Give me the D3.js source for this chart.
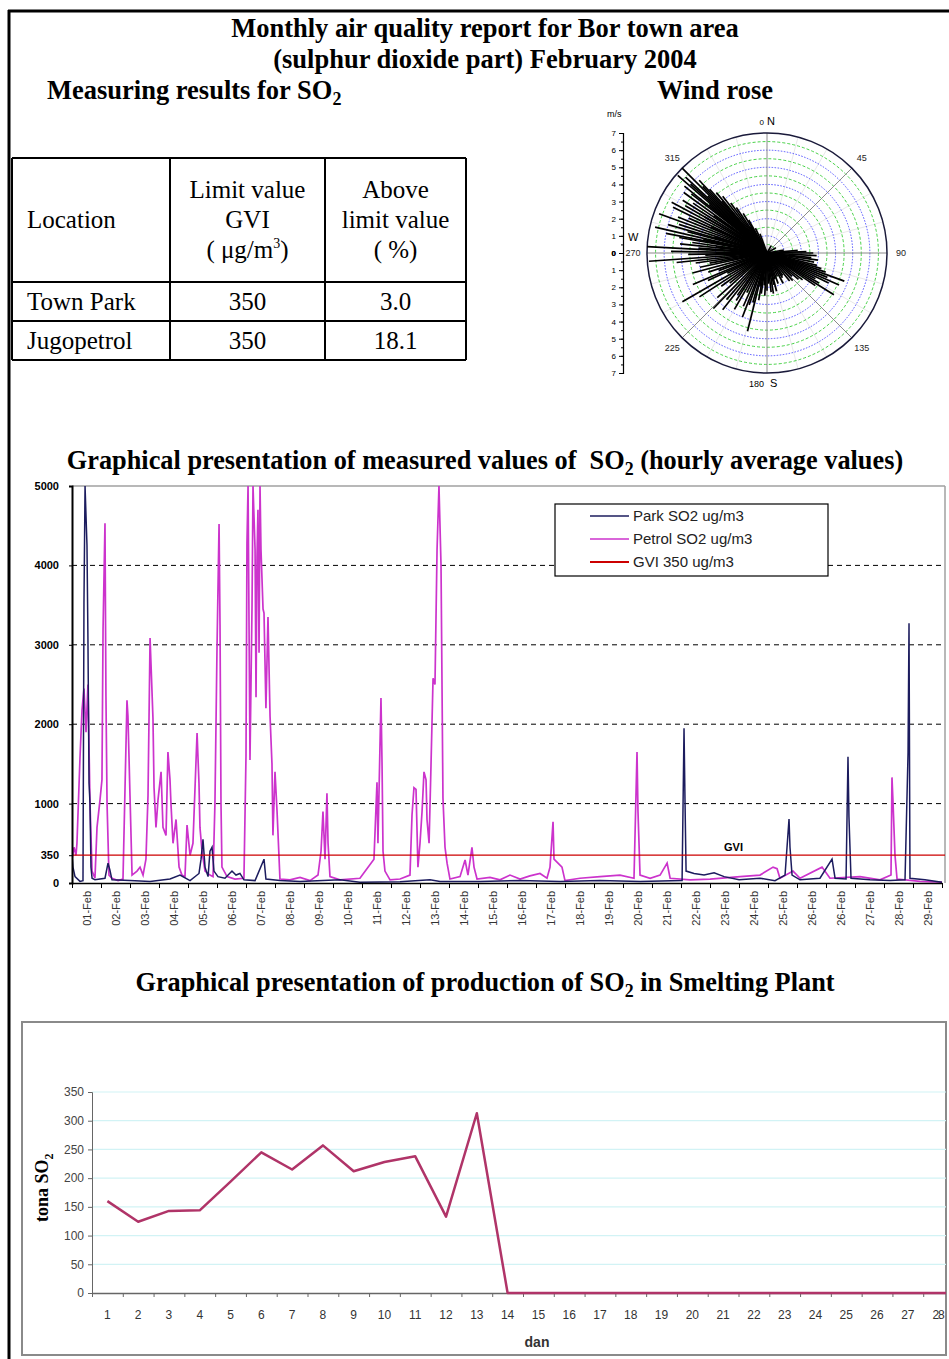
<!DOCTYPE html>
<html>
<head>
<meta charset="utf-8">
<script src="https://cdn.jsdelivr.net/npm/d3@7"></script>
<style>
  body { margin: 0; background: #fff; }
  svg text { font-family: "Liberation Serif", "Times New Roman", serif; }
  svg .sans, svg .sans text { font-family: "Liberation Sans", Arial, sans-serif; }
</style>
</head>
<body>
<svg id="page" width="949" height="1359"></svg>
<script>
// ---- data ----
var titleLines = ["Monthly air quality report for Bor town area", "(sulphur dioxide part) February 2004"];

var tableHeader = [["Location"], ["Limit value", "GVI", "( \u03bcg/m\u00b3)"], ["Above", "limit value", "( %)"]];
var tableRows = [["Town Park", "350", "3.0"], ["Jugopetrol", "350", "18.1"]];

// wind rose: [direction in degrees, speed m/s]
var windData = [
  [315,7.0],[311,6.9],[313,6.5],[309,6.2],[317,5.8],[316,5.4],[318,5.0],[314,4.8],[320,4.6],[322,4.2],
  [319,4.0],[324,3.6],[326,3.2],[329,2.7],[331,2.2],[327,1.8],[312,6.0],[308,5.6],[306,6.0],[304,5.2],
  [302,5.8],[300,5.5],[298,6.3],[296,6.1],[294,5.0],[292,5.6],[290,6.7],[288,5.4],[286,6.0],[285,4.8],
  [283,6.7],[281,6.0],[280,5.2],[278,4.4],[276,5.1],[274,4.0],[273,7.0],[271,5.6],[269,4.6],[268,3.6],
  [266,6.9],[264,5.3],[262,4.2],[260,3.4],[258,4.0],[255,4.5],[252,3.6],[250,3.0],[247,4.7],[245,3.8],
  [243,2.6],[240,5.7],[237,4.7],[234,3.3],[231,2.8],[228,3.9],[224,4.5],[221,3.6],[218,4.2],[215,3.0],
  [213,3.3],[210,3.8],[207,2.6],[204,3.4],[201,4.0],[199,3.2],[196,3.0],[194,4.7],[192,2.0],[190,2.8],
  [188,2.4],[185,1.9],[183,2.5],[180,2.2],[177,1.8],[174,2.3],[171,2.4],[168,1.9],[166,2.3],[163,1.6],
  [160,1.9],[156,1.5],[152,2.0],[148,1.7],[145,1.6],[141,2.1],[137,2.2],[133,2.0],[130,2.4],[127,2.6],
  [124,3.4],[122,4.6],[120,3.5],[118,3.2],[116,4.0],[114,4.6],[112,3.8],[110,4.8],[108,3.6],[106,3.3],
  [104,3.0],[101,2.8],[98,3.0],[96,2.6],[93,2.9],[90,2.7],[88,2.3],[85,1.8],[80,1.0],[60,0.6],
  [30,0.5],[340,1.2],[335,1.6],[310,4.4],[305,3.8],[300,4.2],[295,3.6],[287,3.2],[282,3.8],[277,3.0]
];
var windDirLabels = [[45,"45"],[90,"90"],[135,"135"],[225,"225"],[270,"270"],[315,"315"]];
var windSpeedTicks = [0,1,2,3,4,5,6,7];

// hourly SO2, [hour of month, ug/m3]
var petrolPts = [
  [0,300],[1.7,450],[3.3,350],[4.1,500],[6.6,1570],[8.3,2180],[9.9,2450],[11.6,1900],[13.2,2500],[14.9,1000],
  [16.6,150],[19,60],[20.7,700],[23.2,1050],[24.8,1300],[25.7,3200],[27.3,4530],[28.1,2350],[29,1000],[30.6,100],
  [33.1,60],[38.1,30],[42.2,50],[43.9,1210],[45.5,2300],[46.3,2100],[48,1100],[49.7,100],[53.8,150],[56.3,200],
  [58.8,100],[61.2,300],[62.9,1100],[64.6,3085],[67,2080],[67.9,1200],[69.5,700],[71.2,1050],[73.7,1400],[75.3,700],
  [77.8,600],[79.4,1650],[81.1,1300],[81.9,1000],[83.6,500],[86.1,800],[88.6,200],[91,100],[93.5,80],[95.2,730],
  [97.7,350],[100.1,500],[103.5,1890],[105.1,1250],[105.9,700],[107.6,400],[110.1,150],[114.2,100],[116.7,80],[118.3,1000],
  [120,2950],[121.7,4520],[122.5,3250],[123.3,1000],[124.1,200],[128.3,80],[134.9,50],[142.3,60],[144,1600],[144.8,4280],
  [145.7,5000],[147.3,1550],[149,3500],[149.8,5000],[151.5,4200],[152.3,2340],[153.1,4100],[153.9,4700],[154.8,2900],[155.6,5000],
  [156.4,4200],[158.1,3450],[158.9,3400],[160.5,2200],[162.2,3350],[163.9,2100],[165.5,1500],[166.3,600],[168,1400],[169.7,900],
  [172.1,50],[180.4,40],[188.7,70],[197,30],[203.6,100],[206.1,400],[207.7,900],[209.4,300],[211,1130],[211.9,500],
  [213.5,80],[221.8,40],[238.3,60],[249.9,300],[252.4,1270],[253.2,500],[255.7,2330],[256.6,1480],[257.4,400],[259,150],
  [263.2,40],[271.5,50],[279.7,100],[281.4,860],[283,1200],[284.7,1180],[286.3,200],[288,500],[289.7,900],[291.3,1400],
  [293,1300],[293.8,800],[295.5,500],[297.1,1480],[298.8,2580],[300.4,2500],[302.1,4190],[303.7,5000],[305.4,4000],[307,1070],
  [308.7,450],[310.4,250],[312.8,50],[321.1,80],[325.3,290],[327.7,100],[331,450],[332.7,200],[335.2,50],[345.9,70],
  [354.2,40],[362.5,100],[370.8,50],[379,90],[387.3,120],[393.1,60],[395.6,200],[398.1,770],[398.9,300],[402.2,250],
  [405.5,200],[408,30],[420.4,60],[437,80],[453.5,100],[465.1,60],[467.6,1650],[468.4,900],[470.1,100],[478.4,60],
  [486.7,100],[492.5,250],[495,60],[511.5,40],[528.1,50],[552.9,80],[569.4,100],[580.2,200],[583.5,180],[585.9,60],
  [596.7,150],[602.5,60],[620.7,200],[627.3,60],[652.2,80],[668.7,40],[677.8,100],[678.6,1330],[679.5,1000],[681.1,350],
  [682.8,50],[701.8,20],[720,10]
];
var parkPts = [
  [0,350],[0.8,200],[2.5,80],[6.6,20],[9.1,30],[9.9,3520],[10.8,5000],[12.4,4250],[13.2,3060],[14.1,1260],
  [14.9,1000],[15.7,200],[16.6,60],[19,40],[27.3,60],[29.8,250],[31.4,160],[33.1,40],[48,30],[64.6,20],
  [81.1,50],[89.4,100],[97.7,30],[105.1,120],[106.8,300],[108.4,550],[110.1,200],[112.6,80],[114.2,400],[115.9,450],
  [117.5,150],[120.8,80],[126.6,60],[132.4,150],[135.7,100],[139,120],[142.3,40],[151.5,30],[158.9,300],[160.5,50],
  [172.1,30],[188.7,20],[221.8,40],[238.3,10],[271.5,15],[296.3,40],[304.6,20],[337.7,20],[370.8,30],[403.9,20],
  [437,30],[470.1,20],[504.9,30],[506.5,1950],[507.3,1050],[508.2,150],[514.8,120],[523.1,100],[531.4,130],[539.7,80],
  [552.1,40],[569.4,60],[581.8,30],[590.1,100],[593.4,805],[594.2,450],[595.9,100],[602.5,40],[619,60],[629,300],
  [631.5,60],[640.6,50],[642.2,1590],[643,830],[644.7,60],[660.4,40],[677,30],[689.4,40],[691.9,1640],[692.7,3270],
  [693.5,60],[705.9,40],[720,10]
];
var gviValue = 350;
var hourlyTicks = [0, 350, 1000, 2000, 3000, 4000, 5000];
var gridValues = [1000, 2000, 3000, 4000];
var dayLabels = ["01-Feb","02-Feb","03-Feb","04-Feb","05-Feb","06-Feb","07-Feb","08-Feb","09-Feb","10-Feb",
  "11-Feb","12-Feb","13-Feb","14-Feb","15-Feb","16-Feb","17-Feb","18-Feb","19-Feb","20-Feb",
  "21-Feb","22-Feb","23-Feb","24-Feb","25-Feb","26-Feb","26-Feb","27-Feb","28-Feb","29-Feb"];
var legendItems = [["Park SO2 ug/m3", "#1c1c5e"], ["Petrol SO2 ug/m3", "#cc33cc"], ["GVI 350 ug/m3", "#cc0000"]];

// smelting plant production, tonnes per day
var prodDays = d3.range(1, 30);
var prodValues = [160,124,143,144,194,245,215,257,212,228,238,133,313,0,0,0,0,0,0,0,0,0,0,0,0,0,0,0,0];
var prodTicks = [0,50,100,150,200,250,300,350];

var svg = d3.select("#page");

// helper: bold text with SO2 subscript
function so2Text(x, y, size, before, after, anchor) {
  var t = svg.append("text").attr("x", x).attr("y", y)
    .attr("font-size", size).attr("font-weight", "bold")
    .attr("text-anchor", anchor || "start");
  t.append("tspan").text(before + "SO");
  t.append("tspan").attr("font-size", size * 0.68).attr("dy", size * 0.22).text("2");
  if (after) t.append("tspan").attr("dy", -size * 0.22).text(after);
  return t;
}

// page frame
svg.append("line").attr("x1", 9).attr("y1", 10).attr("x2", 9).attr("y2", 1359)
  .attr("stroke", "#000").attr("stroke-width", 3);
svg.append("line").attr("x1", 8).attr("y1", 11).attr("x2", 949).attr("y2", 11)
  .attr("stroke", "#000").attr("stroke-width", 3);

// titles
svg.selectAll(".title").data(titleLines).enter().append("text")
  .attr("x", 485).attr("y", function (d, i) { return 37 + i * 31; })
  .attr("text-anchor", "middle").attr("font-size", 26.5).attr("font-weight", "bold")
  .text(function (d) { return d; });
so2Text(47, 99, 26.5, "Measuring results for ", "");
svg.append("text").attr("x", 715).attr("y", 99).attr("text-anchor", "middle")
  .attr("font-size", 26.5).attr("font-weight", "bold").text("Wind rose");

// ---- table ----
var colX = [12, 170, 325, 466], rowY = [158, 282, 321, 360];
var tbl = svg.append("g");
colX.forEach(function (cx) {
  tbl.append("line").attr("x1", cx).attr("x2", cx).attr("y1", rowY[0]).attr("y2", rowY[3])
    .attr("stroke", "#000").attr("stroke-width", 2);
});
rowY.forEach(function (ry) {
  tbl.append("line").attr("x1", colX[0]).attr("x2", colX[3]).attr("y1", ry).attr("y2", ry)
    .attr("stroke", "#000").attr("stroke-width", 2);
});
tableHeader.forEach(function (lines, c) {
  var cx = c === 0 ? 27 : (colX[c] + colX[c + 1]) / 2;
  var y0 = (rowY[0] + rowY[1]) / 2 - (lines.length - 1) * 15 + 8;
  lines.forEach(function (s, k) {
    var t = tbl.append("text").attr("x", cx).attr("y", y0 + k * 30).attr("font-size", 25)
      .attr("text-anchor", c === 0 ? "start" : "middle");
    if (s.indexOf("\u00b3") >= 0) {
      t.append("tspan").text("( \u03bcg/m");
      t.append("tspan").attr("font-size", 14).attr("dy", -10).text("3");
      t.append("tspan").attr("dy", 10).text(")");
    } else t.text(s);
  });
});
tableRows.forEach(function (row, r) {
  row.forEach(function (s, c) {
    tbl.append("text")
      .attr("x", c === 0 ? 27 : (colX[c] + colX[c + 1]) / 2)
      .attr("y", (rowY[r + 1] + rowY[r + 2]) / 2 + 8)
      .attr("font-size", 25).attr("text-anchor", c === 0 ? "start" : "middle").text(s);
  });
});

// ---- wind rose ----
var wr = svg.append("g").attr("class", "sans").attr("transform", "translate(767,253)");
var rr = d3.scaleLinear().domain([0, 7]).range([0, 120]);
var rad = function (deg) { return deg * Math.PI / 180; };
d3.range(0, 360, 15).forEach(function (a) {
  if (a % 45 === 0) return;
  wr.append("line").attr("x1", 0).attr("y1", 0)
    .attr("x2", rr(7) * Math.sin(rad(a))).attr("y2", -rr(7) * Math.cos(rad(a)))
    .attr("stroke", "#e2e2e2").attr("stroke-width", 0.8);
});
d3.range(1, 14).forEach(function (k) {
  var v = k / 2;
  wr.append("circle").attr("r", rr(v)).attr("fill", "none")
    .attr("stroke", k % 2 === 0 ? "#4040ff" : "#33cc33")
    .attr("stroke-width", 0.9)
    .attr("stroke-dasharray", k % 2 === 0 ? "1.5,1.5" : "3,2");
});
[0, 45, 90, 135].forEach(function (a) {
  var ex = rr(7) * Math.sin(rad(a)), ey = -rr(7) * Math.cos(rad(a));
  wr.append("line").attr("x1", -ex).attr("y1", -ey).attr("x2", ex).attr("y2", ey)
    .attr("stroke", "#8a8a8a").attr("stroke-width", 1);
});
wr.append("circle").attr("r", rr(7)).attr("fill", "none").attr("stroke", "#1a1a3a").attr("stroke-width", 1.5);
wr.selectAll(".wind").data(windData).enter().append("line")
  .attr("x1", 0).attr("y1", 0)
  .attr("x2", function (d) { return rr(d[1]) * Math.sin(rad(d[0])); })
  .attr("y2", function (d) { return -rr(d[1]) * Math.cos(rad(d[0])); })
  .attr("stroke", "#000").attr("stroke-width", 1.7);
wr.selectAll(".dirlab").data(windDirLabels).enter().append("text")
  .attr("x", function (d) { return (rr(7) + 14) * Math.sin(rad(d[0])); })
  .attr("y", function (d) { return -(rr(7) + 14) * Math.cos(rad(d[0])) + 3; })
  .attr("text-anchor", "middle").attr("font-size", 9).attr("fill", "#222")
  .text(function (d) { return d[1]; });
wr.append("text").attr("x", -3).attr("y", -rr(7) - 8).attr("text-anchor", "end").attr("font-size", 8).text("0");
wr.append("text").attr("x", 0).attr("y", -rr(7) - 8).attr("font-size", 11).text("N");
wr.append("text").attr("x", -3).attr("y", rr(7) + 14).attr("text-anchor", "end").attr("font-size", 9).text("180");
wr.append("text").attr("x", 3).attr("y", rr(7) + 14).attr("font-size", 11).text("S");

// speed axis to the left of the rose
var up = d3.scaleLinear().domain([0, 7]).range([253, 133]);
var dn = d3.scaleLinear().domain([0, 7]).range([253, 373]);
var ax = svg.append("g").attr("class", "sans").attr("transform", "translate(623,0)");
[up, dn].forEach(function (s) {
  var g = ax.append("g").call(d3.axisLeft(s).tickValues(windSpeedTicks).tickFormat(d3.format("d")).tickSize(4).tickPadding(3));
  g.selectAll("text").attr("font-size", 8).attr("font-weight", function (d) { return d === 0 ? "bold" : null; })
    .attr("font-family", "Liberation Sans, Arial, sans-serif");
  g.select(".domain").attr("stroke-width", 1.2);
  ax.append("g").call(d3.axisLeft(s).ticks(14).tickSize(2).tickFormat(""))
    .select(".domain").remove();
});
ax.append("text").attr("x", -16).attr("y", 117).attr("font-size", 9).text("m/s");
ax.append("text").attr("x", 5).attr("y", 241).attr("font-size", 11).text("W");

// ---- hourly chart ----
so2Text(485, 469, 26.3, "Graphical presentation of measured values of \u00a0", " (hourly average values)", "middle");

var x = d3.scaleLinear().domain([0, 720]).range([72, 942]);
var y = d3.scaleLinear().domain([0, 5000]).range([883, 486]);
var ch = svg.append("g").attr("class", "sans");

ch.append("defs").append("clipPath").attr("id", "plotclip")
  .append("rect").attr("x", 72).attr("y", 486).attr("width", 873).attr("height", 398);

ch.append("line").attr("x1", 72).attr("x2", 945).attr("y1", 486).attr("y2", 486).attr("stroke", "#a0a0a0").attr("stroke-width", 1.5);
ch.append("line").attr("x1", 945).attr("x2", 945).attr("y1", 486).attr("y2", 883).attr("stroke", "#a0a0a0").attr("stroke-width", 1.5);
ch.selectAll(".grid").data(gridValues).enter().append("line")
  .attr("x1", 72).attr("x2", 945)
  .attr("y1", function (d) { return y(d); }).attr("y2", function (d) { return y(d); })
  .attr("stroke", "#000").attr("stroke-width", 1).attr("stroke-dasharray", "5,4");

var line = d3.line().x(function (d) { return x(d[0]); }).y(function (d) { return y(d[1]); });
var plot = ch.append("g").attr("clip-path", "url(#plotclip)");
plot.append("path").datum(petrolPts).attr("d", line).attr("fill", "none")
  .attr("stroke", "#cc33cc").attr("stroke-width", 1.7);
plot.append("path").datum(parkPts).attr("d", line).attr("fill", "none")
  .attr("stroke", "#1c1c5e").attr("stroke-width", 1.5);
plot.append("line").attr("x1", 72).attr("x2", 945).attr("y1", y(gviValue)).attr("y2", y(gviValue))
  .attr("stroke", "#cc0000").attr("stroke-width", 1.2);

var yAx = ch.append("g").attr("transform", "translate(72,0)")
  .call(d3.axisLeft(y).tickValues(hourlyTicks).tickFormat(d3.format("d")).tickSize(3).tickPadding(10));
yAx.selectAll("text").attr("font-size", 11).attr("font-weight", "bold")
  .attr("font-family", "Liberation Sans, Arial, sans-serif");
yAx.select(".domain").attr("stroke-width", 2);

var xAx = ch.append("g").attr("transform", "translate(0,883)")
  .call(d3.axisBottom(x).tickValues(d3.range(0, 721, 24)).tickSize(5).tickSizeOuter(0).tickFormat(""));
xAx.select(".domain").attr("stroke-width", 1.5);
ch.selectAll(".daylab").data(dayLabels).enter().append("text")
  .attr("transform", function (d, i) { return "translate(" + (x(12 + i * 24) + 4) + ",891) rotate(-90)"; })
  .attr("text-anchor", "end").attr("font-size", 11).attr("fill", "#333")
  .text(function (d) { return d; });

ch.append("text").attr("x", 724).attr("y", 851).attr("font-size", 11).attr("font-weight", "bold").text("GVI");

var lg = ch.append("g").attr("transform", "translate(555,504)");
lg.append("rect").attr("width", 273).attr("height", 72).attr("fill", "#fff").attr("stroke", "#000").attr("stroke-width", 1.2);
lg.selectAll(".li").data(legendItems).enter().append("g")
  .attr("transform", function (d, i) { return "translate(0," + (12 + i * 23) + ")"; })
  .each(function (d, i) {
    var g = d3.select(this);
    g.append("line").attr("x1", 35).attr("x2", 74).attr("stroke", d[1]).attr("stroke-width", i === 2 ? 2 : 1.4);
    g.append("text").attr("x", 78).attr("y", 5).attr("font-size", 15).attr("fill", "#222").text(d[0]);
  });

// ---- production chart ----
so2Text(485, 991, 26.3, "Graphical presentation of production of ", " in Smelting Plant", "middle");

var pb = svg.append("g").attr("class", "sans");
pb.append("defs").append("clipPath").attr("id", "pclip")
  .append("rect").attr("x", 22).attr("y", 1022).attr("width", 924).attr("height", 333);
pb.append("rect").attr("x", 22).attr("y", 1022).attr("width", 924).attr("height", 333)
  .attr("fill", "none").attr("stroke", "#8a8a8a").attr("stroke-width", 2);

var px = d3.scaleLinear().domain([0.5, 28.5]).range([92, 954]);
var py = d3.scaleLinear().domain([0, 350]).range([1293, 1092]);
var pin = pb.append("g").attr("clip-path", "url(#pclip)");
pin.selectAll(".pg").data(prodTicks.slice(1)).enter().append("line")
  .attr("x1", 92).attr("x2", 946)
  .attr("y1", function (d) { return py(d); }).attr("y2", function (d) { return py(d); })
  .attr("stroke", "#d2f3f5").attr("stroke-width", 1.2);

var pxAx = pin.append("g").attr("transform", "translate(0,1293)")
  .call(d3.axisBottom(px).tickValues(d3.range(0.5, 30, 1)).tickSize(4).tickSizeOuter(0).tickFormat(""));
pxAx.selectAll("line, path").attr("stroke", "#666");
pxAx.select(".domain").attr("stroke-width", 1.5);
pb.selectAll(".dl").data(prodDays.filter(function (d) { return px(d) < 940; })).enter().append("text")
  .attr("x", function (d) { return px(d); }).attr("y", 1319)
  .attr("text-anchor", "middle").attr("font-size", 12).attr("fill", "#333")
  .attr("textLength", function (d) { return d === 28 ? 12 : null; })
  .text(function (d) { return d; });

var pline = d3.line().x(function (d, i) { return px(prodDays[i]); }).y(function (d) { return py(d); });
pin.append("path").datum(prodValues).attr("d", pline).attr("fill", "none")
  .attr("stroke", "#b03468").attr("stroke-width", 2.5).attr("stroke-linejoin", "round");

var pyAx = pb.append("g").attr("transform", "translate(92,0)")
  .call(d3.axisLeft(py).tickValues(prodTicks).tickSize(4).tickPadding(4));
pyAx.selectAll("line, path").attr("stroke", "#666");
pyAx.selectAll("text").attr("font-size", 12).attr("fill", "#444")
  .attr("font-family", "Liberation Sans, Arial, sans-serif");

var yl = svg.append("text").attr("transform", "translate(48,1222) rotate(-90)")
  .attr("font-size", 18).attr("font-weight", "bold");
yl.append("tspan").text("tona SO");
yl.append("tspan").attr("font-size", 12).attr("dy", 5).text("2");

pb.append("text").attr("x", 537).attr("y", 1347).attr("text-anchor", "middle")
  .attr("font-size", 14).attr("font-weight", "bold").attr("fill", "#333").text("dan");
</script>
</body>
</html>
